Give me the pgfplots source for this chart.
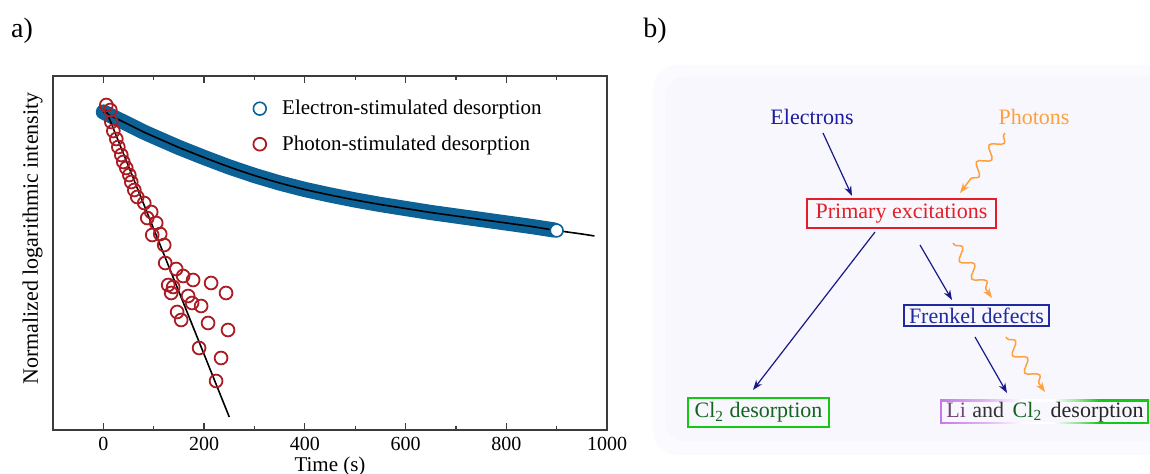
\documentclass[border=0pt]{standalone}
\usepackage{fontspec}
\setmainfont{Liberation Serif}
\usepackage{pgfplots}
\pgfplotsset{compat=1.18}
\usetikzlibrary{arrows.meta,decorations.pathmorphing}

\definecolor{esdblue}{RGB}{12,98,150}
\definecolor{psdred}{RGB}{172,28,36}
\definecolor{framegray}{RGB}{60,60,60}
\definecolor{panelout}{RGB}{250,250,255}
\definecolor{panelin}{RGB}{247,247,253}
\definecolor{elec}{RGB}{28,28,160}
\definecolor{phot}{RGB}{255,160,60}
\definecolor{prim}{RGB}{228,30,40}
\definecolor{frenk}{RGB}{32,42,160}
\definecolor{clgreen}{RGB}{20,200,20}
\definecolor{cltext}{RGB}{20,100,30}
\definecolor{lipurple}{RGB}{200,120,230}
\definecolor{litext}{RGB}{110,70,120}
\definecolor{lipale}{RGB}{225,180,242}
\definecolor{greenpale}{RGB}{150,225,150}
\pgfdeclarehorizontalshading{lishade}{100bp}{color(0bp)=(lipurple); color(25bp)=(lipurple); color(36bp)=(lipale); color(45bp)=(white); color(52bp)=(white); color(58bp)=(greenpale); color(63bp)=(clgreen); color(100bp)=(clgreen)}

\begin{document}
\begin{tikzpicture}[font=\fontsize{10.5}{12.6}\selectfont]
\path[use as bounding box] (0,0) rectangle (575pt,-237pt);
\node[font=\fontsize{14}{16}\selectfont] at (11pt,-15.5pt) {a)};
\node[font=\fontsize{14}{16}\selectfont] at (327.5pt,-15.5pt) {b)};

\begin{axis}[
  at={(26.5pt,-215pt)}, anchor=south west,
  scale only axis, width=277pt, height=177pt,
  xmin=-100, xmax=1000, ymin=0, ymax=354,
  xtick={0,200,...,1000},
  minor xtick={100,300,...,900},
  ytick=\empty,
  xtick pos=both,
  tick align=inside,
  major tick length=3.5pt, minor tick length=2pt,
  axis line style={framegray, line width=0.7pt},
  every tick/.style={framegray, line width=0.6pt},
  tick label style={font=\fontsize{10}{12}\selectfont},
  /pgf/number format/assume math mode=true,
  /pgf/number format/1000 sep={},
  xlabel={Time (s)},
  xlabel style={at={(axis description cs:0.5,-0.102)}, anchor=center, font=\fontsize{10.5}{12.6}\selectfont},
  ylabel={Normalized logarithmic intensity},
  ylabel style={at={(axis description cs:-0.006,0.541)}, anchor=south, font=\fontsize{11}{13}\selectfont},
  legend style={draw=none, fill=none, at={(axis description cs:0.361,0.945)}, anchor=north west,
    inner sep=0pt, row sep=5pt, font=\fontsize{10.5}{12.6}\selectfont},
  legend cell align=left,
  clip=false,
]
% electron-stimulated desorption: dense data drawn as a band
\addplot[forget plot, esdblue, line width=7.6pt, line cap=round, line join=round] coordinates {
  (0,318) (10,315.5) (20,313) (40,308) (60,303) (80,298) (100,293.5) (125,288)
  (150,282.5) (175,277.5) (200,272.5) (250,263) (300,254.5) (350,247) (400,240.5)
  (450,235) (500,230) (550,225.5) (600,221.5) (650,217.5) (700,214) (750,210.5)
  (800,207) (850,203.5) (895,200)
};
\addplot[forget plot, only marks, mark=*, mark size=3.2pt,
  mark options={draw=esdblue, fill=white, line width=0.8pt}] coordinates {(900,199.5)};

% photon-stimulated desorption
\addplot[forget plot, only marks, mark=o, mark size=3.2pt,
  mark options={draw=psdred, line width=0.9pt}] coordinates {
  (5.9,325) (13.9,320) (15.8,308) (19.8,299) (25.7,291) (29.7,283) (35.6,275)
  (39.6,268) (45.5,262) (51.5,255) (55.4,248) (61.4,240) (67.3,233) (81.2,227)
  (87.1,212) (95.0,218) (104.9,207) (97.0,195) (112.9,196) (120.8,185) (122.8,167)
  (144.6,161) (158.4,154) (178.2,150) (213.9,147) (243.6,137) (128.7,145) (138.6,143)
  (134.7,137) (168.3,134) (176.2,127) (194.1,124) (146.5,118) (154.5,110) (207.9,107)
  (247.5,100) (190.1,82) (233.7,72) (223.8,49)
};

% fits
\addplot[forget plot, black, line width=0.8pt, smooth] coordinates {
  (0,318) (10,315.5) (20,313) (40,308) (60,303) (80,298) (100,293.5) (125,288)
  (150,282.5) (175,277.5) (200,272.5) (250,263) (300,254.5) (350,247) (400,240.5)
  (450,235) (500,230) (550,225.5) (600,221.5) (650,217.5) (700,214) (750,210.5)
  (800,207) (850,203.5) (900,199.5) (950,196) (975,194)
};
\addplot[forget plot, black, line width=0.8pt] coordinates {(5,320) (250,13)};

\addlegendimage{only marks, mark=o, mark size=3.2pt, mark options={draw=esdblue, line width=0.8pt}}
\addlegendentry{\hspace{6pt}Electron-stimulated desorption}
\addlegendimage{only marks, mark=o, mark size=3.2pt, mark options={draw=psdred, line width=0.9pt}}
\addlegendentry{\hspace{6pt}Photon-stimulated desorption}
\end{axis}

% panel b: schematic
\begin{scope}[x=0.5pt, y=-0.5pt, font=\fontsize{11}{13}\selectfont]
  \fill[panelout, rounded corners=12pt] (653,65) rectangle (1175,455);
  \fill[panelin, rounded corners=10pt] (665,77) rectangle (1175,441);

  \node[text=elec] at (812,117) {Electrons};
  \node[text=phot] at (1034,117) {Photons};

  \node[draw=prim, text=prim, line width=0.9pt, minimum width=94.5pt, minimum height=14.5pt, inner sep=0pt]
    at (901.5,213.5) {Primary excitations};
  \node[draw=frenk, text=frenk, line width=0.9pt, minimum width=72.5pt, minimum height=10.5pt, inner sep=0pt]
    at (976.5,315.5) {Frenkel defects};
  \node[draw=clgreen, text=cltext, line width=0.9pt, minimum width=70.5pt, minimum height=14.5pt, inner sep=0pt]
    at (758.5,412.5) {Cl\textsubscript{2} desorption};

  \shade[shading=lishade] (940,400) rectangle (1149,424);
  \fill[panelin] (942,402) rectangle (1147,422);
  \node[inner sep=0pt, anchor=west] at (946,412)
    {\textcolor{litext}{Li}\hspace{0.5pt} \textcolor{black!80}{and}\hspace{1.5pt} \textcolor{cltext}{Cl\textsubscript{2}}\hspace{1.5pt} \textcolor{black!85}{desorption}};

  \begin{scope}[elec!85!black, line width=0.6pt, -{Stealth[length=5pt, width=3.6pt]}]
    \draw (823,133) -- (852,196);
    \draw (875,232) -- (753,390);
    \draw (920,245) -- (952,300);
    \draw (975,337) -- (1007,393);
  \end{scope}
  \begin{scope}[phot, line width=0.75pt, -{Stealth[length=5pt, width=3.6pt]},
      decoration={snake, amplitude=2.8pt, segment length=10.5pt, pre length=1pt, post length=5pt}]
    \draw[decorate] (1005,133) -- (960,193);
    \draw[decorate] (953,243) -- (992,298);
    \draw[decorate] (1006,337) -- (1045,392);
  \end{scope}
\end{scope}
\end{tikzpicture}
\end{document}
